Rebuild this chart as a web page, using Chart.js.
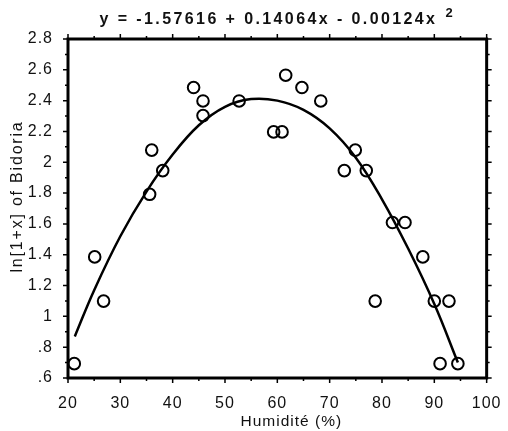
<!DOCTYPE html>
<html><head><meta charset="utf-8">
<script src="https://cdn.jsdelivr.net/npm/chart.js@4"></script>
<style>html,body{margin:0;padding:0;background:#fff}#wrap{width:508px;height:431px}</style>
</head><body><div id="wrap"><canvas id="c" width="508" height="431"></canvas></div>
<script>
// Observed points: humidity (%) and ln(1+x) of Bidoria
const humidity   = [21.2, 25.1, 26.8, 35.6, 36.0, 38.1, 44.0, 45.8, 45.8, 52.7, 59.3, 60.9, 61.6, 64.7, 68.3, 72.8, 74.9, 77.0, 78.7, 82.0, 84.4, 87.8, 90.0, 91.1, 92.8, 94.5];
const lnBidoria  = [0.693, 1.386, 1.099, 1.792, 2.079, 1.946, 2.485, 2.398, 2.303, 2.398, 2.197, 2.197, 2.565, 2.485, 2.398, 1.946, 2.079, 1.946, 1.099, 1.609, 1.609, 1.386, 1.099, 0.693, 1.099, 0.693];
// Fitted curve
const fitX = [21.3, 25, 30, 35, 40, 45, 50, 55, 60, 65, 70, 75, 80, 85, 90, 94.5];
const fitY = [0.87, 1.17, 1.52, 1.81, 2.05, 2.24, 2.36, 2.41, 2.40, 2.34, 2.22, 2.03, 1.76, 1.44, 1.08, 0.70];
// Axes
const xTicks = [20, 30, 40, 50, 60, 70, 80, 90, 100];
const xMinorTicks = [25, 35, 45, 55, 65, 75, 85, 95];
const yTicks = [0.6, 0.8, 1.0, 1.2, 1.4, 1.6, 1.8, 2.0, 2.2, 2.4, 2.6, 2.8];
const yTickLabels = ['.6', '.8', '1', '1.2', '1.4', '1.6', '1.8', '2', '2.2', '2.4', '2.6', '2.8'];
const yMinorTicks = [0.7, 0.9, 1.1, 1.3, 1.5, 1.7, 1.9, 2.1, 2.3, 2.5, 2.7];
const titleMain = 'y = -1.57616 + 0.14064x - 0.00124x';
const titleSup = '2';
const xTitle = 'Humidité (%)';
const yTitle = 'ln[1+x] of Bidoria';

const FONT = '"Liberation Sans", Arial, sans-serif';
const INK = '#111';

const decor = {
  id: 'decor',
  beforeDraw(chart) {
    chart.ctx.letterSpacing = '1px';
  },
  afterDraw(chart) {
    const ctx = chart.ctx;
    const a = chart.chartArea;
    const xs = chart.scales.x, ys = chart.scales.y;
    ctx.save();
    ctx.strokeStyle = '#000';
    ctx.lineWidth = 3;
    ctx.strokeRect(a.left, a.top, a.right - a.left, a.bottom - a.top);
    ctx.lineWidth = 1.5;
    ctx.beginPath();
    const tick = (v, len, horiz) => {
      if (horiz) {
        const px = xs.getPixelForValue(v);
        ctx.moveTo(px, a.bottom); ctx.lineTo(px, a.bottom + len);
        ctx.moveTo(px, a.top); ctx.lineTo(px, a.top - len);
      } else {
        const py = ys.getPixelForValue(v);
        ctx.moveTo(a.left, py); ctx.lineTo(a.left - len, py);
        ctx.moveTo(a.right, py); ctx.lineTo(a.right + len, py);
      }
    };
    xTicks.forEach(v => tick(v, 5, true));
    xMinorTicks.forEach(v => tick(v, 3, true));
    yTicks.forEach(v => tick(v, 5, false));
    yMinorTicks.forEach(v => tick(v, 3, false));
    ctx.stroke();

    // Title with superscript
    ctx.fillStyle = INK;
    ctx.textBaseline = 'alphabetic';
    ctx.textAlign = 'left';
    ctx.letterSpacing = '2.4px';
    ctx.font = 'bold 16px ' + FONT;
    const wMain = ctx.measureText(titleMain).width;
    ctx.font = 'bold 13px ' + FONT;
    const wSup = ctx.measureText(titleSup).width;
    const gap = 8;
    const cx = (a.left + a.right) / 2;
    const x0 = cx - (wMain + gap + wSup) / 2;
    ctx.font = 'bold 16px ' + FONT;
    ctx.fillText(titleMain, x0, 24);
    ctx.font = 'bold 13px ' + FONT;
    ctx.fillText(titleSup, x0 + wMain + gap, 17);

    // Axis titles
    ctx.letterSpacing = '1px';
    ctx.font = '15.5px ' + FONT;
    ctx.textAlign = 'center';
    ctx.textBaseline = 'middle';
    ctx.fillText(xTitle, cx + 14, 422);
    ctx.letterSpacing = '1.8px';
    ctx.font = '16px ' + FONT;
    ctx.translate(18, (a.top + a.bottom) / 2 - 12);
    ctx.rotate(-Math.PI / 2);
    ctx.fillText(yTitle, 0, 0);
    ctx.restore();
  }
};

new Chart(document.getElementById('c'), {
  data: {
    datasets: [
      {
        type: 'line',
        data: fitX.map((x, i) => ({ x, y: fitY[i] })),
        borderColor: '#000',
        borderWidth: 2.5,
        pointRadius: 0,
        fill: false,
        tension: 0.4
      },
      {
        type: 'scatter',
        data: humidity.map((x, i) => ({ x, y: lnBidoria[i] })),
        borderColor: '#000',
        backgroundColor: 'rgba(0,0,0,0)',
        borderWidth: 2,
        pointRadius: 5.8,
        pointHoverRadius: 5.8,
        pointStyle: 'circle'
      }
    ]
  },
  options: {
    responsive: false,
    animation: false,
    devicePixelRatio: 1,
    layout: { padding: { top: 39, right: 19, left: 0, bottom: 0 } },
    plugins: { legend: { display: false }, tooltip: { enabled: false }, title: { display: false } },
    scales: {
      x: {
        type: 'linear', position: 'bottom', min: 20, max: 100,
        afterBuildTicks: s => { s.ticks = xTicks.map(v => ({ value: v })); },
        afterFit: s => { s.height = 53; },
        grid: { display: false },
        border: { display: false },
        ticks: { color: INK, font: { family: FONT, size: 16 }, padding: 8, maxRotation: 0, autoSkip: false }
      },
      y: {
        type: 'linear', position: 'left', min: 0.6, max: 2.8,
        afterBuildTicks: s => { s.ticks = yTicks.map(v => ({ value: v })); },
        afterFit: s => { s.width = 68; },
        grid: { display: false },
        border: { display: false },
        ticks: {
          color: INK, font: { family: FONT, size: 16 }, padding: 7, autoSkip: false,
          callback: (v, i) => yTickLabels[i]
        }
      }
    }
  },
  plugins: [decor]
});
</script>
</body></html>
